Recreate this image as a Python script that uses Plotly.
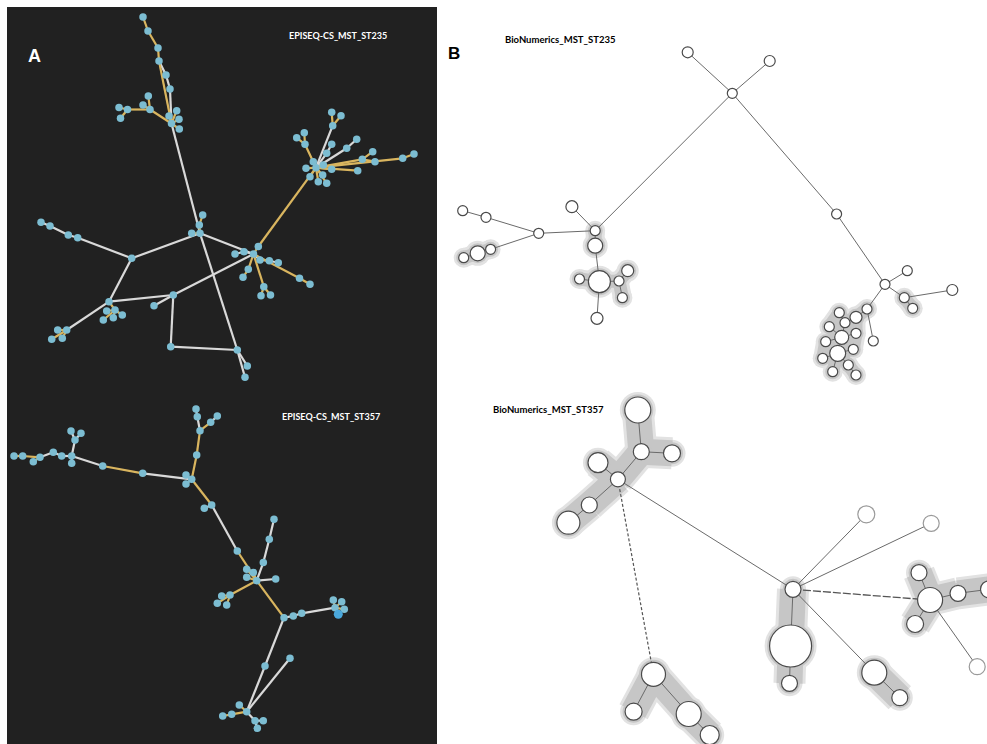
import plotly.graph_objects as go

W, H = 987, 744

# ---------------- Panel A : EPISEQ-CS minimum spanning trees ----------------
# node positions (pixel space of the figure)
a235_nodes = {
    "t1": (143, 17), "t2": (148, 31), "t3": (158, 48), "t4": (159, 61),
    "t5": (166, 75), "t6": (170, 89), "h1": (171.5, 123.5),
    "h1a": (169, 116), "h1b": (176.7, 110.7), "h1c": (179, 119.3), "h1d": (179.3, 129),
    "b1": (150, 109.5), "b2": (143, 105), "b3": (148.3, 96), "b4": (127.5, 109.5),
    "b5": (119, 107.5), "b6": (120.5, 118.3),
    "h2": (200, 233.3), "h2a": (191.7, 233.3), "h2b": (199.3, 225), "h2c": (202.7, 215),
    "h3": (131.7, 258.3), "c1": (77.7, 237.7), "c2": (68.3, 235), "c3": (50, 226), "c4": (41, 222.3),
    "h6": (109, 301.7), "h6s": (115, 310), "h6a": (106.7, 311), "h6b": (103.3, 320),
    "h6c": (113.3, 317.7), "h6d": (122.3, 315),
    "sh": (66.7, 330), "sha": (57.7, 330), "shb": (51.7, 339.3), "shc": (62.3, 338.3),
    "h5": (173.3, 295), "h5a": (154, 305.7), "d1": (170.7, 346.7), "d2": (237.3, 350),
    "d3": (247.3, 366), "d4": (245, 377.3),
    "h4": (253.5, 254), "h4a": (258.3, 246.5), "h4b": (244, 251.7), "h4c": (235, 254),
    "h4d": (248.3, 269.3), "h4e": (243, 277.3), "h4f": (260, 260), "h4g": (269.3, 260.7),
    "h4h": (278.3, 262.7), "h4i": (299.5, 278.3), "h4j": (310, 284.3), "h4k": (263.8, 286.7),
    "h4l": (261, 295.7), "h4m": (270.5, 295),
    "h7": (316, 167.7),
    "s1": (331.7, 112.3), "s2": (341, 115.7), "s3": (332.7, 125.7), "s4": (296.7, 137.7),
    "s5": (304.3, 132.7), "s6": (305, 144.3), "s7": (331.7, 144.3), "s8": (326.7, 153.3),
    "s9": (356.7, 139.3), "s10": (346.7, 148.3), "s11": (372.7, 151.7), "s12": (362.3, 159.3),
    "s13": (375, 161.7), "s14": (402.7, 158.3), "s15": (414, 154), "s16": (357.7, 170.7),
    "s17": (331.7, 169.3), "s18": (323.3, 165), "s19": (306, 168.3), "s20": (313.3, 161.7),
    "s21": (310, 176.7), "s22": (318.3, 181.7), "s23": (326.7, 183.3), "s24": (322.7, 175),
}
a235_white = [
    ("t4", "t5"), ("t5", "t6"), ("t6", "h1"), ("h1", "h2"), ("h2", "d2"),
    ("h2", "h3"), ("h2", "h4"), ("h3", "c1"), ("c1", "c2"), ("c2", "c3"), ("c3", "c4"),
    ("h3", "h6"), ("h6", "h5"), ("h5", "h4"), ("h5", "h5a"), ("h5", "d1"), ("d1", "d2"),
    ("d2", "d3"), ("d2", "d4"), ("h6", "sh"), ("h4", "h4b"), ("h4b", "h4c"),
    ("h4", "h4f"), ("h4f", "h4g"), ("h4g", "h4h"),
    ("h7", "s3"), ("h7", "s8"), ("s8", "s7"), ("h7", "s10"), ("s10", "s9"),
]
a235_gold = [
    ("t1", "t2"), ("t2", "t3"), ("t3", "t4"), ("t4", "h1"),
    ("h1", "h1a"), ("h1", "h1b"), ("h1", "h1c"), ("h1", "h1d"),
    ("h1", "b1"), ("b1", "b4"), ("b4", "b5"), ("b4", "b6"), ("b1", "b2"), ("b1", "b3"),
    ("h2", "h2a"), ("h2", "h2b"), ("h2b", "h2c"),
    ("sh", "sha"), ("sh", "shb"), ("sh", "shc"),
    ("h6", "h6s"), ("h6s", "h6a"), ("h6s", "h6b"), ("h6s", "h6c"), ("h6s", "h6d"),
    ("h4", "h4a"), ("h4a", "h7"), ("h4", "h4d"), ("h4d", "h4e"),
    ("h4", "h4i"), ("h4i", "h4j"), ("h4", "h4k"), ("h4k", "h4l"), ("h4k", "h4m"),
    ("s3", "s1"), ("s3", "s2"), ("h7", "s6"), ("s6", "s4"), ("s6", "s5"),
    ("h7", "s12"), ("s12", "s11"), ("s12", "s13"), ("h7", "s14"), ("s14", "s15"),
    ("h7", "s16"), ("h7", "s17"), ("h7", "s18"), ("h7", "s19"), ("h7", "s20"),
    ("h7", "s21"), ("h7", "s22"), ("h7", "s23"), ("h7", "s24"),
]

a357_nodes = {
    "u1": (14, 456), "u2": (22.7, 456), "u3": (33.3, 461.7), "u4": (40, 457.3),
    "u5": (53.3, 452.3), "u6": (61.7, 456), "S1": (71.7, 456), "u7": (71.7, 463.3),
    "u8": (75, 440), "u9": (71, 431), "u10": (81, 433.3),
    "v1": (102.7, 466), "v2": (142.7, 473.3), "S2": (191.7, 479.3), "v3": (186, 475), "v4": (186, 484),
    "w1": (196.7, 455), "w2": (200, 430.7), "w3": (197.3, 416.7), "w4": (196, 409),
    "w5": (210.7, 422.3), "w6": (217.3, 416),
    "x1": (211.7, 505), "x2": (204.3, 508.3), "x3": (237.3, 551),
    "S3": (256.7, 580.7), "y1": (263.3, 562.5), "y2": (269.3, 539.3), "y3": (274, 519.3),
    "y4": (246.7, 569.3), "y5": (253.3, 572.5), "y6": (246.7, 577.3), "y7": (275.7, 579),
    "z1": (230, 595), "z2": (221.7, 596), "z3": (217.3, 603.3), "z4": (226.7, 605),
    "S4": (284, 617.7), "q1": (293.3, 616), "q2": (301.7, 613.3), "q3": (335, 607.7),
    "q4": (333.3, 600), "q5": (341.7, 601.7), "q6": (344.3, 609.3), "q7": (338.3, 614.3),
    "r1": (265, 666), "S5": (246.7, 711.7), "r2": (290, 658.3), "r3": (239.3, 705),
    "r4": (231.7, 714.3), "r5": (222.7, 716), "r6": (255, 720.7), "r7": (263.3, 720.7),
    "r8": (257.3, 728.3),
}
a357_white = [
    ("u4", "u5"), ("u5", "u6"), ("u6", "S1"), ("S1", "u7"), ("S1", "u8"), ("u8", "u9"),
    ("u8", "u10"), ("S1", "v1"), ("v2", "S2"), ("w2", "w3"), ("w3", "w4"), ("w5", "w6"),
    ("x1", "x2"), ("x1", "x3"), ("S3", "y1"), ("y1", "y2"), ("y2", "y3"), ("S3", "y7"),
    ("S4", "q1"), ("q1", "q2"), ("q2", "q3"), ("S4", "r1"), ("r1", "S5"), ("S5", "r2"),
    ("S5", "r6"), ("r6", "r7"), ("r6", "r8"),
]
a357_gold = [
    ("u1", "u2"), ("u2", "u4"), ("u3", "u4"), ("v1", "v2"), ("S2", "v3"), ("S2", "v4"),
    ("S2", "w1"), ("w1", "w2"), ("w2", "w5"), ("S2", "x1"), ("x3", "S3"),
    ("S3", "y4"), ("S3", "y5"), ("S3", "y6"), ("S3", "z1"), ("z1", "z2"), ("z1", "z3"),
    ("z1", "z4"), ("S3", "S4"), ("q3", "q4"), ("q3", "q5"), ("q3", "q6"), ("q3", "q7"),
    ("S5", "r3"), ("S5", "r4"), ("r4", "r5"),
]
a357_big = ["q7"]

# ---------------- Panel B : BioNumerics minimum spanning trees ----------------
# name: (x, y, radius)
b235_nodes = {
    "T": (732.3, 93.3, 5), "TL": (687.7, 52.3, 5.5), "TR": (769.7, 61, 5.5),
    "L2": (595.2, 230.7, 5), "L2a": (595.2, 245.7, 7.5), "L2b": (571.9, 206.7, 6),
    "L1": (538.7, 233.3, 5), "La": (486, 217.3, 5), "Lb": (462.7, 210.7, 5),
    "Lc": (490.6, 249.3, 5), "Ld": (477.7, 253.3, 7.5), "Le": (463.7, 257.7, 5),
    "G0": (599.4, 281.7, 11), "Ga": (579.5, 279, 5), "Gb": (619, 281, 5),
    "Gc": (627.7, 270.7, 6), "Gd": (622.4, 297.7, 5), "Ge": (597, 318.3, 6),
    "R0": (836.6, 214, 5), "R1": (885, 284.3, 5), "Ra": (907.3, 270.7, 5),
    "Rb": (952.3, 290, 5.5), "Rc": (904.3, 297.7, 5), "Rd": (912.7, 308.3, 5),
    "K0": (867, 309, 5), "Kx": (873.3, 341, 5), "K1": (856, 317.3, 6), "K2": (839.3, 312.7, 5),
    "K3": (845, 322.7, 5), "K4": (829.3, 326.7, 5), "K5": (856, 333.3, 5),
    "K6": (841.7, 337.3, 7), "K7": (825.7, 341.7, 5), "K8": (853.3, 349.3, 5),
    "K9": (837.7, 353.3, 8), "K10": (822.7, 358.3, 5), "K11": (848.3, 365, 5),
    "K12": (832.7, 371.7, 5), "K13": (856, 375, 5),
}
b235_edges = [
    ("T", "TL"), ("T", "TR"), ("T", "L2"), ("T", "R0"), ("R0", "R1"),
    ("L2", "L2b"), ("L2", "L1"), ("L2", "L2a"), ("L2a", "G0"), ("G0", "Ga"), ("G0", "Gb"),
    ("Gb", "Gc"), ("Gb", "Gd"), ("G0", "Ge"), ("L1", "La"), ("La", "Lb"), ("L1", "Lc"),
    ("Lc", "Ld"), ("Ld", "Le"),
    ("R1", "Ra"), ("R1", "Rc"), ("Rc", "Rd"), ("Rc", "Rb"), ("R1", "K0"), ("K0", "Kx"),
    ("K0", "K1"), ("K1", "K3"), ("K3", "K2"), ("K3", "K6"), ("K6", "K4"), ("K6", "K5"),
    ("K6", "K7"), ("K6", "K9"), ("K9", "K8"), ("K9", "K10"), ("K9", "K12"), ("K9", "K11"),
    ("K11", "K13"),
]
b235_clusters = [
    [("L2", "L2a")],
    [("Lc", "Ld"), ("Ld", "Le")],
    [("G0", "Ga"), ("G0", "Gb"), ("Gb", "Gc"), ("Gb", "Gd")],
    [("Rc", "Rd")],
    [("K0", "K1"), ("K1", "K3"), ("K3", "K2"), ("K3", "K6"), ("K6", "K4"), ("K6", "K5"),
     ("K6", "K7"), ("K6", "K9"), ("K9", "K8"), ("K9", "K10"), ("K9", "K12"), ("K9", "K11"),
     ("K11", "K13"), ("K2", "K4"), ("K5", "K8"), ("K7", "K10"), ("K1", "K5")],
]

b357_nodes = {
    "P": (617.9, 479.3, 7.5), "Pa": (641.3, 451.7, 8), "Pb": (637.8, 410, 13),
    "Pc": (672, 453.3, 8.5), "Pd": (598, 462.7, 10), "Pe": (589.3, 505, 8),
    "Pf": (568.4, 522.7, 11.5),
    "Q": (793, 589.3, 8), "Qa": (790.6, 646, 21), "Qb": (789.5, 683.3, 8),
    "Qc": (874.3, 672.7, 12.5), "Qd": (899.8, 697.7, 8), "Qe": (866.3, 514.3, 8.5),
    "Qf": (931.2, 523.3, 8),
    "W": (930.1, 600, 12.5), "Wa": (919, 572.7, 8), "Wb": (915.1, 624, 8.5),
    "Wc": (958, 593.3, 8), "Wd": (989, 589.3, 8.5), "We": (977.2, 666.7, 8),
    "M": (653.5, 674.3, 12), "Ma": (633.6, 711.7, 8.5), "Mb": (688.7, 714, 12.5),
    "Mc": (709.7, 735, 9.5),
}
b357_edges = [
    ("P", "Pa"), ("Pa", "Pb"), ("Pa", "Pc"), ("P", "Pd"), ("P", "Pe"), ("Pe", "Pf"),
    ("P", "Q"), ("Q", "Qa"), ("Qa", "Qb"), ("Q", "Qc"), ("Qc", "Qd"), ("Q", "Qe"),
    ("Q", "Qf"), ("W", "Wa"), ("W", "Wb"), ("W", "Wc"), ("Wc", "Wd"), ("W", "We"),
    ("M", "Ma"), ("M", "Mb"), ("Mb", "Mc"),
]
b357_dashed = [("P", "M")]
b357_longdash = [("Q", "W")]
b357_clusters = [
    [("P", "Pa"), ("Pa", "Pb"), ("Pa", "Pc"), ("P", "Pd"), ("P", "Pe"), ("Pe", "Pf")],
    [("Q", "Qa"), ("Qa", "Qb")],
    [("Qc", "Qd")],
    [("W", "Wa"), ("W", "Wb"), ("W", "Wc"), ("Wc", "Wd")],
    [("M", "Ma"), ("M", "Mb"), ("Mb", "Mc")],
]
b357_faint = ["Qe", "Qf", "We"]

# ---------------- styling ----------------
DARK_BG = "#212121"
A_WHITE = "#d9d9d9"
A_GOLD = "#d9b55f"
A_NODE = "#7cbdd2"
B_LINE = "#6a6a6a"
B_HALO = "#c6c6c6"
B_HALO_SOFT = "#e2e2e2"

fig = go.Figure()


def seg_xy(nodes, edges):
    xs, ys = [], []
    for a, b in edges:
        xs += [nodes[a][0], nodes[b][0], None]
        ys += [nodes[a][1], nodes[b][1], None]
    return xs, ys


def add_lines(nodes, edges, color, width, dash="solid"):
    xs, ys = seg_xy(nodes, edges)
    fig.add_trace(go.Scatter(x=xs, y=ys, mode="lines", hoverinfo="skip",
                             line=dict(color=color, width=width, dash=dash)))


# Panel A
for nodes, white, gold, big in [(a235_nodes, a235_white, a235_gold, []),
                                (a357_nodes, a357_white, a357_gold, a357_big)]:
    add_lines(nodes, white, A_WHITE, 2.2)
    add_lines(nodes, gold, A_GOLD, 2.2)
    names = list(nodes)
    fig.add_trace(go.Scatter(
        x=[nodes[n][0] for n in names], y=[nodes[n][1] for n in names],
        mode="markers", hoverinfo="skip",
        marker=dict(size=[9 if n in big else 7.5 for n in names], opacity=1,
                    color=["#4aa8dc" if n in big else A_NODE for n in names],
                    line=dict(width=0))))

# Panel B
for nodes, edges, clusters, halo_w in [(b235_nodes, b235_edges, b235_clusters, 13),
                                       (b357_nodes, b357_edges, b357_clusters, 26)]:
    members = sorted({n for cl in clusters for e in cl for n in e})
    for width, color, pad in [(halo_w + 6, B_HALO_SOFT, 10), (halo_w, B_HALO, 5)]:
        for cl in clusters:
            add_lines(nodes, cl, color, width)
        fig.add_trace(go.Scatter(
            x=[nodes[n][0] for n in members], y=[nodes[n][1] for n in members],
            mode="markers", hoverinfo="skip",
            marker=dict(size=[2 * nodes[n][2] + pad for n in members], color=color,
                        opacity=1, line=dict(width=0))))
    add_lines(nodes, edges, B_LINE, 1)

add_lines(b357_nodes, b357_dashed, "#555555", 1.2, dash="3px,2px")
add_lines(b357_nodes, b357_longdash, "#555555", 1.3, dash="8px,2px")

for nodes, faint in [(b235_nodes, []), (b357_nodes, b357_faint)]:
    names = list(nodes)
    fig.add_trace(go.Scatter(
        x=[nodes[n][0] for n in names], y=[nodes[n][1] for n in names],
        mode="markers", hoverinfo="skip",
        marker=dict(size=[2 * nodes[n][2] for n in names], color="white", opacity=1,
                    line=dict(color=["#9a9a9a" if n in faint else "#4a4a4a" for n in names],
                              width=1.2))))

# ---------------- labels ----------------
labels = [
    ("A", 34, 56, 18, "white", "Liberation Sans"),
    ("B", 454, 53, 17, "black", "Liberation Sans"),
    ("EPISEQ-CS_MST_ST235", 338, 35, 9, "white", "Lato"),
    ("EPISEQ-CS_MST_ST357", 331, 416, 9, "white", "Lato"),
    ("BioNumerics_MST_ST235", 560, 39, 9.5, "black", "Lato"),
    ("BioNumerics_MST_ST357", 548, 409, 9.5, "black", "Lato"),
]
for text, x, y, size, color, family in labels:
    fig.add_annotation(x=x, y=y, xref="x", yref="y", text="<b>%s</b>" % text,
                       showarrow=False, font=dict(size=size, color=color, family=family),
                       xanchor="center", yanchor="middle")

fig.update_layout(
    width=W, height=H, margin=dict(l=0, r=0, t=0, b=0),
    paper_bgcolor="white", plot_bgcolor="white", showlegend=False,
    xaxis=dict(range=[0, W], visible=False, fixedrange=True),
    yaxis=dict(range=[H, 0], visible=False, fixedrange=True),
    shapes=[dict(type="rect", xref="x", yref="y", x0=7, x1=437, y0=7, y1=H,
                 fillcolor=DARK_BG, line=dict(width=0), layer="below")],
)

fig.write_html("out.html", config={"displayModeBar": False})
